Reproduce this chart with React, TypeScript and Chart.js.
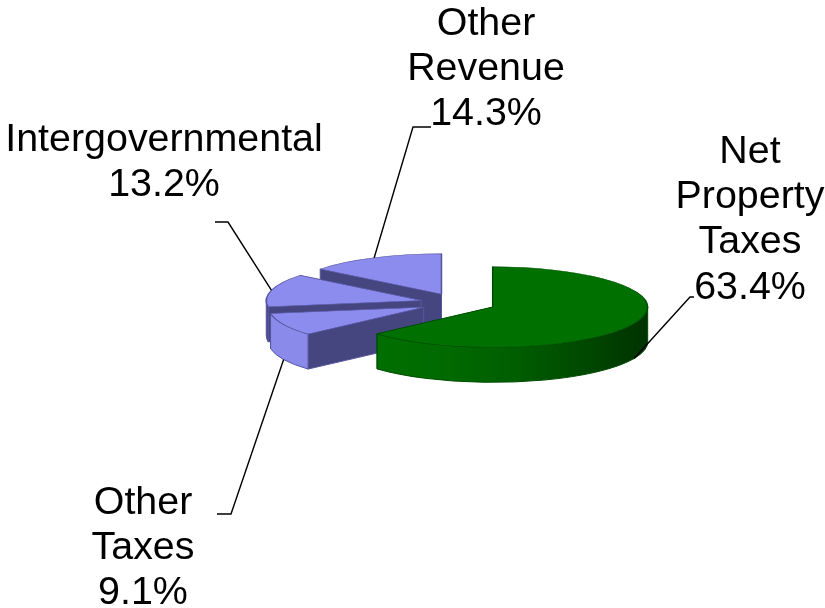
import React, { useEffect, useRef } from "react";
import { Chart, registerables } from "chart.js";

Chart.register(...registerables);

// Share of revenue by source, in percent, clockwise from twelve o'clock.
const categories = ["Net Property Taxes", "Other Taxes", "Intergovernmental", "Other Revenue"];
const shares = [63.4, 9.1, 13.2, 14.3];

// Wrapped text of each label.
const labelLines = [
  ["Net", "Property", "Taxes"],
  ["Other", "Taxes"],
  ["Intergovernmental"],
  ["Other", "Revenue"],
];

// Appearance of each slice.
const faceColors = ["#007000", "#8c8cee", "#8c8cee", "#8c8cee"];
const borderColors = ["#004c00", "#55559f", "#55559f", "#55559f"];
const radialWallColors = ["#004400", "#45457f", "#45457f", "#45457f"];
const outerWallStops = [
  ["#006e00", "#006a00", "#005e00", "#004a00", "#003200"],
  ["#8a8aea", "#8a8aea"],
  ["#45458a", "#45458a"],
  ["#45457f", "#45457f"],
];

// Back-to-front paint order of the slices.
const paintOrder = [3, 2, 1, 0];

// Projection of the pie: vertical squash, wall height, explosion distance.
const TILT = 0.26;
const WALL = 35;
const EXPLODE = 38;
const RADIUS = 155;

const FONT = '39.4px "Liberation Sans", Arial, sans-serif';
const LINE_HEIGHT = 45.2;

// Leader elbow and label placement for each slice, in canvas pixels.
const labelLayout = [
  { centerX: 750, firstBaseline: 163, elbow: [690, 297], tickEnd: [694, 297] },
  { centerX: 143, firstBaseline: 514, elbow: [231, 514], tickEnd: [217, 514] },
  { centerX: 164, firstBaseline: 151, elbow: [228, 222], tickEnd: [215, 222] },
  { centerX: 486, firstBaseline: 35, elbow: [413, 127], tickEnd: [431, 127] },
];

function sliceCentre(arc: any) {
  const mid = (arc.startAngle + arc.endAngle) / 2;
  return {
    x: arc.x + Math.cos(mid) * EXPLODE,
    y: arc.y + Math.sin(mid) * EXPLODE * TILT,
    mid,
  };
}

function rimPoint(c: { x: number; y: number }, r: number, angle: number) {
  return { x: c.x + Math.cos(angle) * r, y: c.y + Math.sin(angle) * r * TILT };
}

function drawRadialWall(ctx: CanvasRenderingContext2D, c: any, r: number, angle: number, i: number) {
  const p = rimPoint(c, r, angle);
  ctx.beginPath();
  ctx.moveTo(c.x, c.y);
  ctx.lineTo(p.x, p.y);
  ctx.lineTo(p.x, p.y + WALL);
  ctx.lineTo(c.x, c.y + WALL);
  ctx.closePath();
  ctx.fillStyle = radialWallColors[i];
  ctx.fill();
  ctx.strokeStyle = borderColors[i];
  ctx.lineWidth = 1;
  ctx.stroke();
}

function drawOuterWall(ctx: CanvasRenderingContext2D, c: any, r: number, start: number, end: number, i: number) {
  const a = Math.max(start, 0);
  const b = Math.min(end, Math.PI);
  if (b <= a) return;
  const left = rimPoint(c, r, b).x;
  const right = rimPoint(c, r, a).x;
  const gradient = ctx.createLinearGradient(left, 0, right, 0);
  const stops = outerWallStops[i];
  stops.forEach((color, s) => gradient.addColorStop(s / (stops.length - 1), color));
  ctx.beginPath();
  ctx.ellipse(c.x, c.y, r, r * TILT, 0, a, b, false);
  ctx.ellipse(c.x, c.y + WALL, r, r * TILT, 0, b, a, true);
  ctx.closePath();
  ctx.fillStyle = gradient;
  ctx.fill();
  ctx.strokeStyle = borderColors[i];
  ctx.lineWidth = 1;
  ctx.stroke();
}

// Draws the exploded pie as a tilted solid: walls from the arc geometry,
// then the library's own arc element squashed into the top face.
const solidPie = {
  id: "solidPie",
  beforeDatasetDraw(chart: any, args: any) {
    const ctx: CanvasRenderingContext2D = chart.ctx;
    const arcs = args.meta.data;
    for (const i of paintOrder) {
      const arc = arcs[i];
      const c = sliceCentre(arc);
      const r = arc.outerRadius;
      // The wall at the end angle faces away from the viewer, so it goes first.
      drawRadialWall(ctx, c, r, arc.endAngle, i);
      drawRadialWall(ctx, c, r, arc.startAngle, i);
      drawOuterWall(ctx, c, r, arc.startAngle, arc.endAngle, i);
      ctx.save();
      ctx.translate(c.x, c.y);
      ctx.scale(1, TILT);
      ctx.translate(-arc.x, -arc.y);
      arc.draw(ctx);
      ctx.restore();
    }
    return false;
  },
  afterDatasetsDraw(chart: any) {
    const ctx: CanvasRenderingContext2D = chart.ctx;
    const arcs = chart.getDatasetMeta(0).data;
    ctx.save();
    arcs.forEach((arc: any, i: number) => {
      const c = sliceCentre(arc);
      const rim = rimPoint(c, arc.outerRadius, c.mid);
      const anchorY = Math.sin(c.mid) > 0 ? rim.y + WALL : rim.y;
      const layout = labelLayout[i];

      ctx.beginPath();
      ctx.moveTo(rim.x, anchorY);
      ctx.lineTo(layout.elbow[0], layout.elbow[1]);
      ctx.lineTo(layout.tickEnd[0], layout.tickEnd[1]);
      ctx.strokeStyle = "#000000";
      ctx.lineWidth = 1.4;
      ctx.stroke();

      ctx.font = FONT;
      ctx.fillStyle = "#000000";
      ctx.textAlign = "center";
      ctx.textBaseline = "alphabetic";
      const lines = [...labelLines[i], `${shares[i].toFixed(1)}%`];
      lines.forEach((line, n) => {
        ctx.fillText(line, layout.centerX, layout.firstBaseline + n * LINE_HEIGHT);
      });
    });
    ctx.restore();
  },
};

export default function App() {
  const canvasRef = useRef<HTMLCanvasElement | null>(null);

  useEffect(() => {
    const chart = new Chart(canvasRef.current as HTMLCanvasElement, {
      type: "pie",
      data: {
        labels: categories,
        datasets: [
          {
            data: shares,
            backgroundColor: faceColors,
            borderColor: borderColors,
            borderWidth: 1.5,
          },
        ],
      },
      options: {
        responsive: false,
        animation: false,
        radius: RADIUS,
        layout: { padding: { left: 91, bottom: 2 } },
        plugins: { legend: { display: false }, tooltip: { enabled: false } },
      },
      plugins: [solidPie],
    } as any);
    return () => chart.destroy();
  }, []);

  return (
    <div style={{ position: "absolute", left: 0, top: 0, width: 825, height: 608, background: "#ffffff" }}>
      <canvas ref={canvasRef} width={825} height={608} style={{ display: "block" }} />
    </div>
  );
}
